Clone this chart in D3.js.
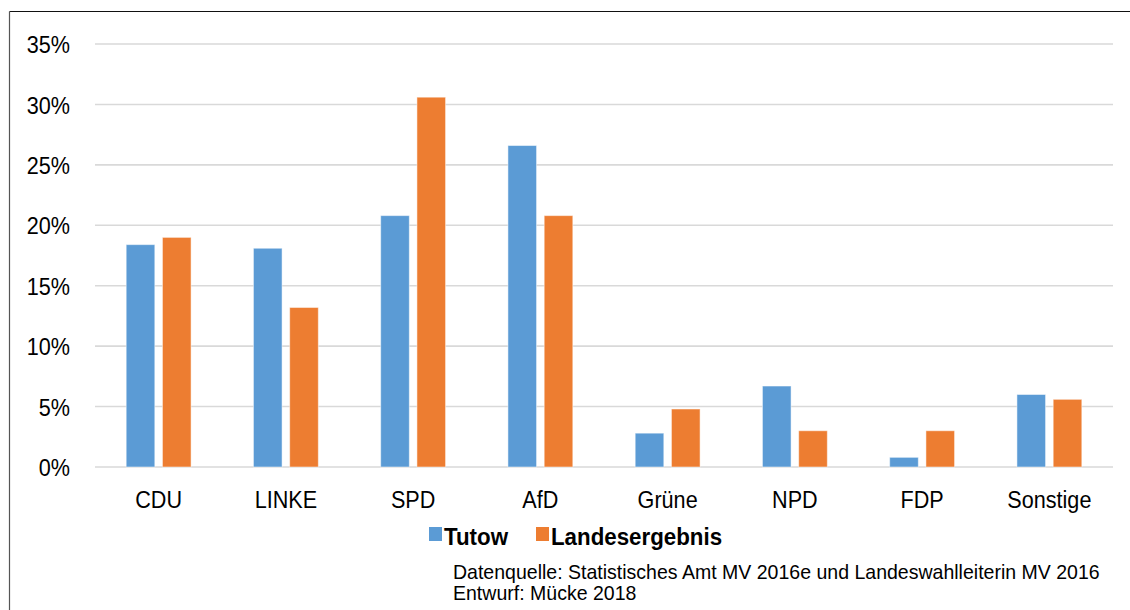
<!DOCTYPE html>
<html><head><meta charset="utf-8">
<script src="https://cdn.jsdelivr.net/npm/d3@7"></script>
<style>
html,body{margin:0;padding:0;background:#fff;}
svg text{font-family:"Liberation Sans",Arial,sans-serif;fill:#000;}
</style></head><body>
<svg id="chart" width="1130" height="610"></svg>
<script>
const categories = ["CDU","LINKE","SPD","AfD","Grüne","NPD","FDP","Sonstige"];
const seriesNames = ["Tutow","Landesergebnis"];
const tutow = [18.4, 18.1, 20.8, 26.6, 2.8, 6.7, 0.8, 6.0];
const landesergebnis = [19.0, 13.2, 30.6, 20.8, 4.8, 3.0, 3.0, 5.6];
const yTicks = [0,5,10,15,20,25,30,35];
const colors = ["#5B9BD5","#ED7D31"];
const sourceLines = ["Datenquelle: Statistisches Amt MV 2016e und Landeswahlleiterin MV 2016","Entwurf: Mücke 2018"];

const svg = d3.select("#chart");
// frame
svg.append("line").attr("x1",9.5).attr("x2",1130).attr("y1",11.5).attr("y2",11.5).attr("stroke","#111").attr("stroke-width",1.2);
svg.append("line").attr("x1",9.5).attr("x2",9.5).attr("y1",11.5).attr("y2",610).attr("stroke","#555").attr("stroke-width",1.2);

const x0 = d3.scaleBand().domain(categories).range([95,1113]).paddingInner(0.49).paddingOuter(0.245);
const x1 = d3.scaleBand().domain([0,1]).range([0,x0.bandwidth()]).paddingInner(0.21);
const y = d3.scaleLinear().domain([0,35]).range([467,44]);

// grid
svg.append("g").selectAll("line").data(yTicks).join("line")
  .attr("x1",95).attr("x2",1113).attr("y1",d=>y(d)).attr("y2",d=>y(d))
  .attr("stroke","#d9d9d9").attr("stroke-width",1.6);

const yAxis = d3.axisLeft(y).tickValues(yTicks).tickFormat(d=>d+"%").tickSize(0).tickPadding(0);
const ya = svg.append("g").attr("transform","translate(70,0)").call(yAxis);
ya.select(".domain").remove();
ya.selectAll("text").attr("font-size",24).attr("dy","0.36em").attr("fill","#000")
  .attr("transform","scale(0.9,1)")
  .style("font-family",'"Liberation Sans",Arial,sans-serif');

// bars
const series = [tutow, landesergebnis];
series.forEach((vals,si)=>{
  svg.append("g").selectAll("rect").data(vals).join("rect")
    .attr("x",(d,i)=>x0(categories[i])+x1(si))
    .attr("width",x1.bandwidth())
    .attr("y",d=>y(d)).attr("height",d=>y(0)-y(d))
    .attr("fill",colors[si]).attr("stroke","rgba(255,255,255,0.5)").attr("stroke-width",1);
});

// x axis labels
const xAxis = d3.axisBottom(x0).tickSize(0).tickPadding(0);
const xa = svg.append("g").attr("transform","translate(0,491)").call(xAxis);
xa.select(".domain").remove();
xa.selectAll("text").attr("font-size",24).attr("dy","0.71em").attr("fill","#000")
  .attr("transform","scale(0.9,1)")
  .style("font-family",'"Liberation Sans",Arial,sans-serif');

// legend
const legX = [429, 536];
seriesNames.forEach((n,i)=>{
  svg.append("rect").attr("x",legX[i]).attr("y",527).attr("width",13).attr("height",14).attr("fill",colors[i]);
  svg.append("g").attr("transform",`translate(${legX[i]+15},545) scale(0.93,1)`)
    .append("text").attr("font-size",24).attr("font-weight","bold").text(n);
});

// source
sourceLines.forEach((t,i)=>{
  svg.append("g").attr("transform",`translate(453,${[579,600][i]}) scale(0.93,1)`)
    .append("text").attr("font-size",21).text(t);
});
</script>
</body></html>
